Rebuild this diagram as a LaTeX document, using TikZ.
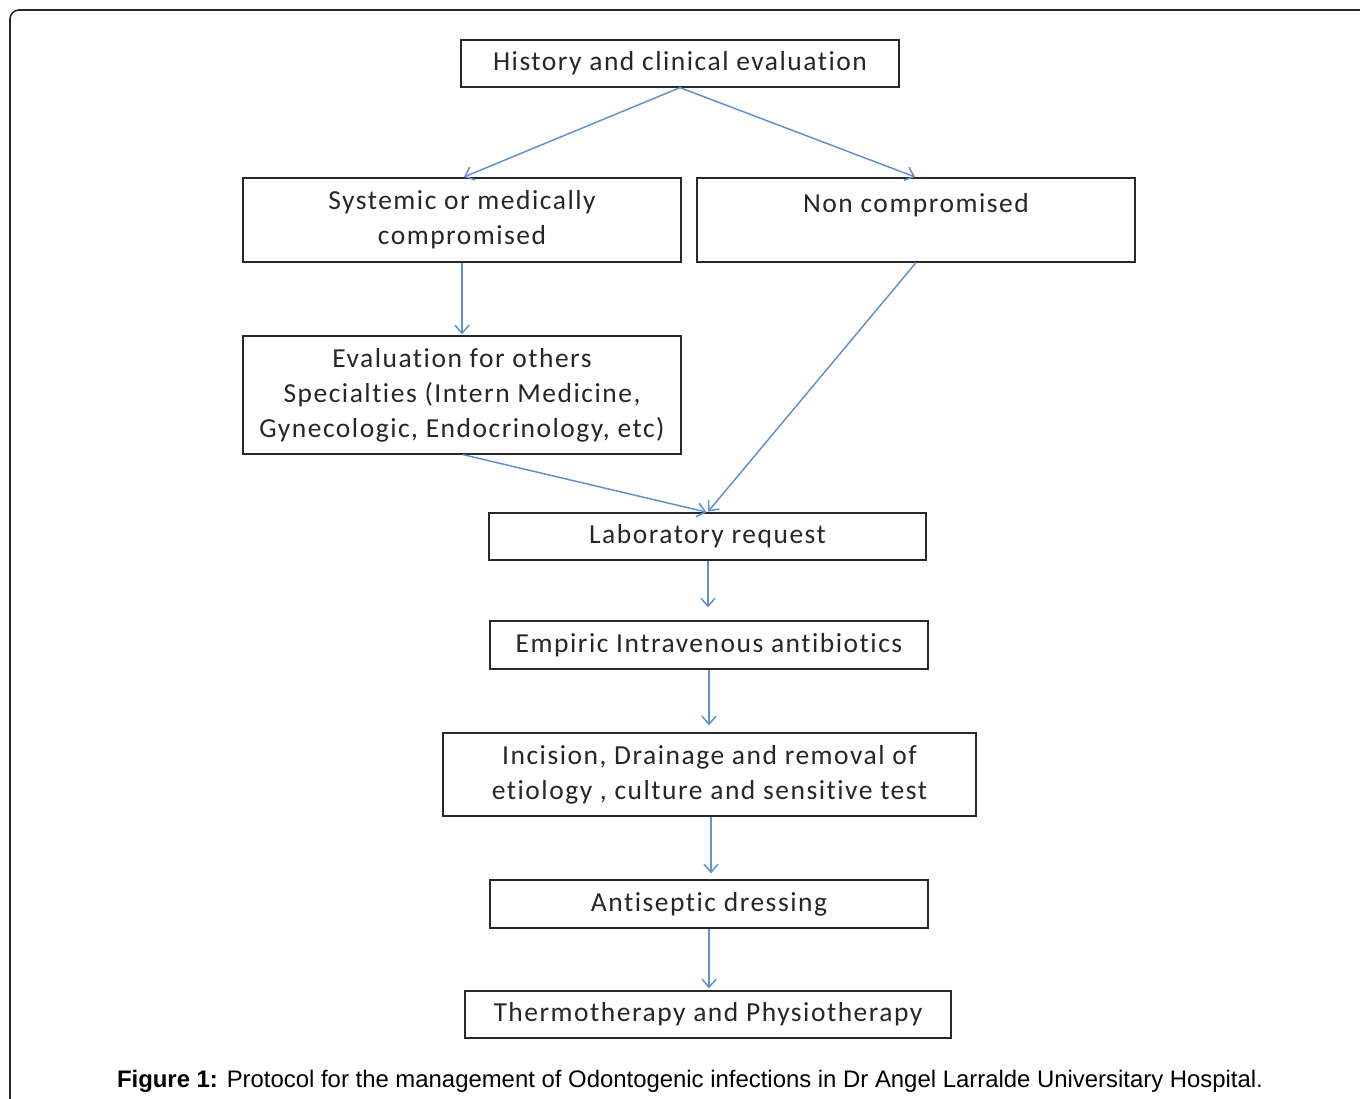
\documentclass[tikz,border=0pt]{standalone}
\usepackage{fontspec}
\setmainfont{Carlito}[LetterSpace=5.5,Ligatures=NoCommon]
\newfontfamily\capfont{Liberation Sans}
\usetikzlibrary{arrows.meta}
\definecolor{flowblue}{RGB}{96,146,208}
\definecolor{framegray}{RGB}{40,40,40}

\begin{document}
\begin{tikzpicture}[x=1pt, y=-1pt,
        box/.style={draw=framegray, line width=1.3pt, rectangle, inner sep=0pt,
          align=center, font=\fontsize{27.5}{35}\selectfont, text=black!85},
        flow/.style={draw=flowblue, line width=1.5pt,
          -{Straight Barb[length=8pt,width=14pt]}, shorten >=1pt}]
      \tikzstyle{caption} = [font=\capfont\fontsize{23.9}{28}\selectfont, color=black]
      \useasboundingbox (0,0) rectangle (1360,1099);
      % outer frame
      \draw[framegray, line width=1.6pt, rounded corners=9pt]
        (10,1110) -- (10,10) -- (1370,10);
      % boxes
      \node (hist) [box, minimum width=438pt, minimum height=47pt] at (680,63.5)
        {History and clinical evaluation};
      \node (sys) [box, minimum width=438pt, minimum height=84pt] at (462,220)
        {Systemic or medically\\compromised};
      \node (non) [box, minimum width=438pt, minimum height=84pt] at (916,220)
        {Non compromised\\ \mbox{}};
      \node (eval) [box, minimum width=438pt, minimum height=118pt] at (462,395)
        {Evaluation for others\\Specialties (Intern Medicine,\\Gynecologic, Endocrinology, etc)};
      \node (lab) [box, minimum width=437pt, minimum height=47pt] at (707.5,536.5)
        {Laboratory request};
      \node (anti) [box, minimum width=438pt, minimum height=48pt] at (709,645)
        {Empiric Intravenous antibiotics};
      \node (inc) [box, minimum width=533pt, minimum height=83pt] at (709.5,774.5)
        {Incision, Drainage and removal of\\etiology , culture and sensitive test};
      \node (dress) [box, minimum width=438pt, minimum height=48pt] at (709,904)
        {Antiseptic dressing};
      \node (thermo) [box, minimum width=486pt, minimum height=47pt] at (708,1014.5)
        {Thermotherapy and Physiotherapy};
      % connectors
      \draw[flow] (hist.south) -- ([xshift=1pt]sys.north);
      \draw[flow] (hist.south) -- (non.north);
      \draw[flow] (sys.south) -- (eval.north);
      \draw[flow] ([xshift=1pt]eval.south) -- (lab.north);
      \draw[flow] (non.south) -- (lab.north);
      \draw[flow, shorten >=13pt] ([xshift=0.5pt]lab.south) -- ([xshift=0.5pt]anti.north -| lab.south);
      \draw[flow, shorten >=7pt] (anti.south) -- (inc.north -| anti.south);
      \draw[flow, shorten >=6pt] ([xshift=1.5pt]inc.south) -- ([xshift=1.5pt]dress.north -| inc.south);
      \draw[flow, shorten >=2pt] (dress.south) -- (thermo.north -| dress.south);
      % caption
      \node (cap) [caption] at (690,1081)
        {\textbf{Figure 1:} Protocol for the management of Odontogenic infections in Dr Angel Larralde Universitary Hospital.};
    \end{tikzpicture}
\end{document}
